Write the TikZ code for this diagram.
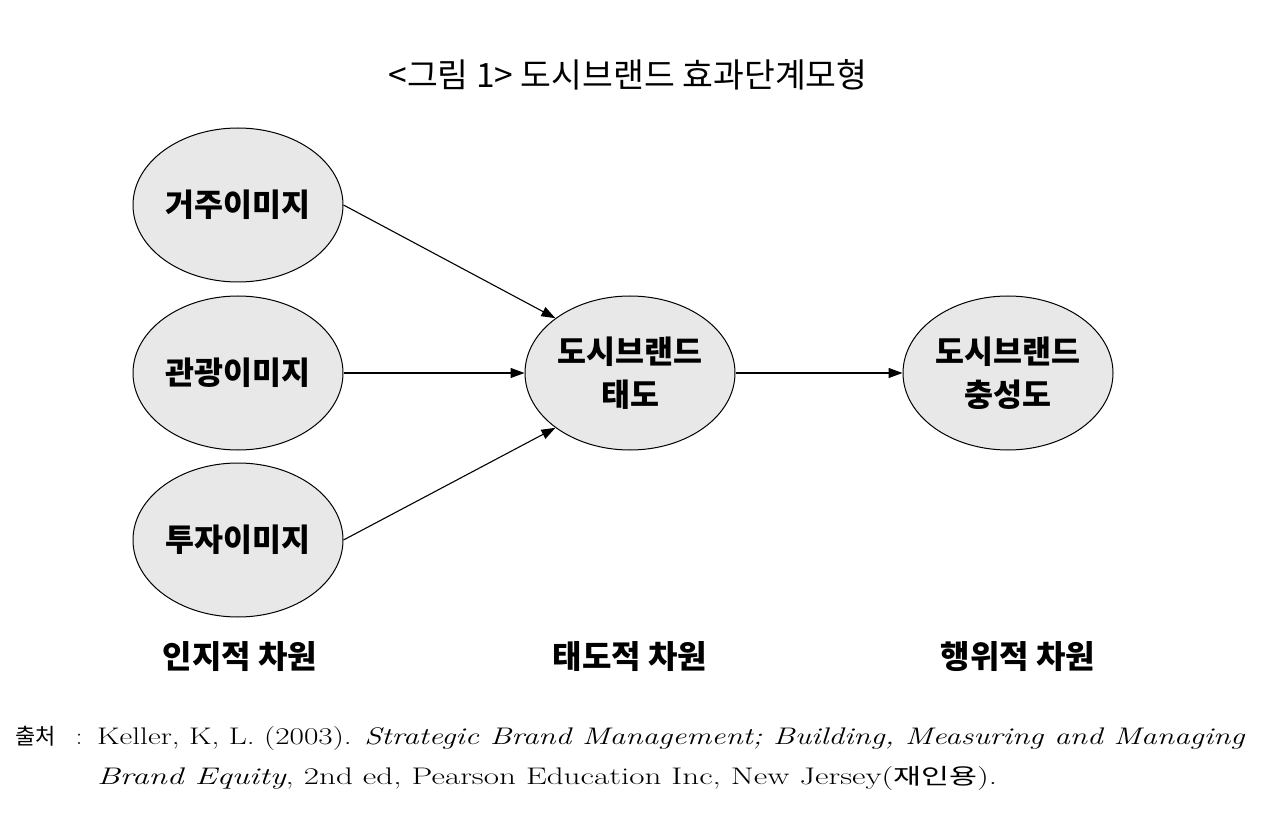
\documentclass[tikz,border=0pt]{standalone}
\usepackage{fontspec}
\usepackage{graphicx}
\usetikzlibrary{shapes.geometric,arrows.meta}
\newfontfamily\kr{Noto Sans CJK KR}
\definecolor{ellfill}{HTML}{E8E8E8}
\tikzset{
  ell/.style={ellipse, draw=black, line width=1pt, fill=ellfill, minimum width=210pt, minimum height=154pt, inner sep=0pt, align=center, font=\kr\bfseries\fontsize{31.5}{43}\selectfont},
  arr/.style={line width=1.1pt, -{Triangle[length=14pt,width=10pt]}},
  dim/.style={font=\kr\bfseries\fontsize{32}{36}\selectfont, inner sep=0pt},
  srctext/.style={anchor=base west, inner sep=0pt, font=\fontsize{24}{28}\selectfont\addfontfeature{LetterSpace=5}},
}
\begin{document}
\begin{tikzpicture}[x=1pt,y=-1pt]
\useasboundingbox (0,0) rectangle (1280,826);
\node[font=\kr\fontsize{33.5}{38}\selectfont, inner sep=0pt] (title) at (628,75) {<그림 1> 도시브랜드 효과단계모형};
\node[ell] (a) at (238,205) {거주이미지};
\node[ell] (b) at (238,373) {관광이미지};
\node[ell] (c) at (238,540) {투자이미지};
\node[ell] (m) at (630,373) {도시브랜드\\태도};
\node[ell] (r) at (1008,373) {도시브랜드\\충성도};
\draw[arr] (a.east) -- (m.north west);
\draw[arr] (b.east) -- (m.west);
\draw[arr] (c.east) -- (m.south west);
\draw[arr] (m.east) -- (r.west);
\node[dim] (d1) at (240,657) {인지적 차원};
\node[dim] (d2) at (630,657) {태도적 차원};
\node[dim] (d3) at (1018,657) {행위적 차원};
\node[srctext] (src) at (15,744) {{\kr\fontsize{22}{26}\selectfont 출처}};
\node[srctext] (colon) at (76,744) {:};
\node[srctext] (l1) at (97,744) {\resizebox{1148pt}{\height}{Keller, K, L. (2003). \textit{Strategic Brand Management; Building, Measuring and Managing}}};
\node[srctext] (l2) at (97,784) {\resizebox{900pt}{\height}{\textit{Brand Equity}, 2nd ed, Pearson Education Inc, New Jersey({\kr\fontsize{22}{26}\selectfont 재인용}).}};
\end{tikzpicture}
\end{document}
